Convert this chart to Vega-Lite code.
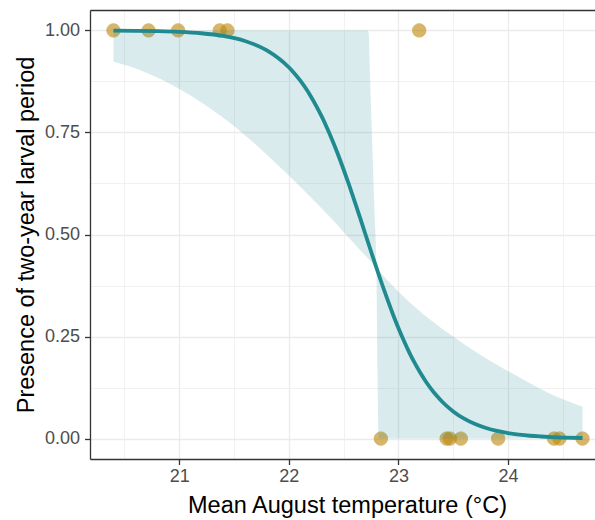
{
  "$schema": "https://vega.github.io/schema/vega-lite/v6.json",
  "width": 505,
  "height": 449,
  "autosize": {"type": "none"},
  "padding": {"left": 90, "top": 10, "right": 0, "bottom": 61},
  "background": "white",
  "config": {
    "view": {"stroke": null},
    "font": "Liberation Sans",
    "axis": {
      "domainColor": "#333333",
      "domainWidth": 1.3,
      "tickColor": "#333333",
      "tickWidth": 1.3,
      "tickSize": 5.5,
      "labelColor": "#4d4d4d",
      "labelFontSize": 18,
      "labelFont": "Liberation Sans",
      "labelFlush": false,
      "labelOverlap": false,
      "titleColor": "#000000",
      "titleFontSize": 23.5,
      "titleFont": "Liberation Sans",
      "titleFontWeight": "normal",
      "gridColor": "#ebebeb"
    }
  },
  "datasets": {
    "obs": [
      {"temp": 20.40, "presence": 1},
      {"temp": 20.72, "presence": 1},
      {"temp": 20.99, "presence": 1},
      {"temp": 21.37, "presence": 1},
      {"temp": 21.44, "presence": 1},
      {"temp": 23.19, "presence": 1},
      {"temp": 22.84, "presence": 0},
      {"temp": 23.44, "presence": 0},
      {"temp": 23.47, "presence": 0},
      {"temp": 23.57, "presence": 0},
      {"temp": 23.91, "presence": 0},
      {"temp": 24.42, "presence": 0},
      {"temp": 24.47, "presence": 0},
      {"temp": 24.68, "presence": 0}
    ],
    "band": [
      {"temp": 20.40, "lo": 0.923, "hi": 1},
      {"temp": 20.64, "lo": 0.903, "hi": 1},
      {"temp": 21.01, "lo": 0.855, "hi": 1},
      {"temp": 21.25, "lo": 0.815, "hi": 1},
      {"temp": 21.50, "lo": 0.766, "hi": 1},
      {"temp": 21.77, "lo": 0.703, "hi": 1},
      {"temp": 22.01, "lo": 0.642, "hi": 1},
      {"temp": 22.24, "lo": 0.580, "hi": 1},
      {"temp": 22.41, "lo": 0.533, "hi": 1},
      {"temp": 22.50, "lo": 0.506, "hi": 1},
      {"temp": 22.60, "lo": 0.477, "hi": 1},
      {"temp": 22.70, "lo": 0.448, "hi": 1},
      {"temp": 22.72, "lo": 0.442, "hi": 1},
      {"temp": 22.73, "lo": 0.439, "hi": 0.99},
      {"temp": 22.74, "lo": 0.436, "hi": 0.90},
      {"temp": 22.76, "lo": 0.430, "hi": 0.73},
      {"temp": 22.78, "lo": 0.424, "hi": 0.57},
      {"temp": 22.80, "lo": 0.418, "hi": 0.40},
      {"temp": 22.81, "lo": 0.415, "hi": 0.15},
      {"temp": 22.82, "lo": 0.412, "hi": 0},
      {"temp": 22.91, "lo": 0.385, "hi": 0},
      {"temp": 23.02, "lo": 0.355, "hi": 0},
      {"temp": 23.14, "lo": 0.325, "hi": 0},
      {"temp": 23.49, "lo": 0.252, "hi": 0},
      {"temp": 23.75, "lo": 0.205, "hi": 0},
      {"temp": 23.93, "lo": 0.176, "hi": 0},
      {"temp": 24.05, "lo": 0.158, "hi": 0},
      {"temp": 24.36, "lo": 0.113, "hi": 0},
      {"temp": 24.68, "lo": 0.078, "hi": 0}
    ],
    "fit": [
      {"temp": 20.40, "p": 0.9995},
      {"temp": 20.60, "p": 0.9990},
      {"temp": 20.80, "p": 0.9981},
      {"temp": 21.00, "p": 0.9964},
      {"temp": 21.20, "p": 0.9930},
      {"temp": 21.40, "p": 0.9865},
      {"temp": 21.60, "p": 0.9742},
      {"temp": 21.80, "p": 0.9512},
      {"temp": 22.00, "p": 0.9097},
      {"temp": 22.05, "p": 0.8952},
      {"temp": 22.10, "p": 0.8787},
      {"temp": 22.15, "p": 0.8600},
      {"temp": 22.20, "p": 0.8389},
      {"temp": 22.25, "p": 0.8153},
      {"temp": 22.30, "p": 0.7892},
      {"temp": 22.35, "p": 0.7604},
      {"temp": 22.40, "p": 0.7291},
      {"temp": 22.45, "p": 0.6953},
      {"temp": 22.50, "p": 0.6592},
      {"temp": 22.55, "p": 0.6213},
      {"temp": 22.60, "p": 0.5818},
      {"temp": 22.65, "p": 0.5412},
      {"temp": 22.70, "p": 0.5000},
      {"temp": 22.75, "p": 0.4589},
      {"temp": 22.80, "p": 0.4182},
      {"temp": 22.85, "p": 0.3787},
      {"temp": 22.90, "p": 0.3408},
      {"temp": 22.95, "p": 0.3047},
      {"temp": 23.00, "p": 0.2709},
      {"temp": 23.05, "p": 0.2396},
      {"temp": 23.10, "p": 0.2108},
      {"temp": 23.15, "p": 0.1847},
      {"temp": 23.20, "p": 0.1611},
      {"temp": 23.25, "p": 0.1400},
      {"temp": 23.30, "p": 0.1213},
      {"temp": 23.35, "p": 0.1048},
      {"temp": 23.40, "p": 0.0903},
      {"temp": 23.45, "p": 0.0776},
      {"temp": 23.50, "p": 0.0666},
      {"temp": 23.60, "p": 0.0488},
      {"temp": 23.70, "p": 0.0356},
      {"temp": 23.80, "p": 0.0258},
      {"temp": 23.90, "p": 0.0187},
      {"temp": 24.00, "p": 0.0135},
      {"temp": 24.10, "p": 0.0098},
      {"temp": 24.20, "p": 0.0070},
      {"temp": 24.30, "p": 0.0051},
      {"temp": 24.40, "p": 0.0036},
      {"temp": 24.50, "p": 0.0026},
      {"temp": 24.68, "p": 0.0015}
    ]
  },
  "layer": [
    {
      "data": {"name": "obs"},
      "mark": {"type": "point", "filled": true, "size": 180, "color": "#bf8a10", "opacity": 0.62, "stroke": "#bf8a10", "strokeWidth": 1},
      "encoding": {
        "x": {
          "field": "temp", "type": "quantitative",
          "scale": {"domain": [20.186, 24.794], "nice": false, "zero": false},
          "axis": {
            "orient": "bottom",
            "title": "Mean August temperature (°C)",
            "values": [20.5, 21, 21.5, 22, 22.5, 23, 23.5, 24, 24.5],
            "labelExpr": "datum.value % 1 === 0 ? format(datum.value, 'd') : ''",
            "grid": true,
            "gridWidth": {"condition": {"test": "datum.value % 1 === 0", "value": 1.3}, "value": 0.65},
            "tickOpacity": {"condition": {"test": "datum.value % 1 === 0", "value": 1}, "value": 0},
            "labelPadding": 3,
            "titlePadding": 8,
            "titleX": 257,
            "titleAlign": "center"
          }
        },
        "y": {
          "field": "presence", "type": "quantitative",
          "scale": {"domain": [-0.05, 1.05], "nice": false, "zero": false},
          "axis": {
            "title": "Presence of two-year larval period",
            "values": [0, 0.125, 0.25, 0.375, 0.5, 0.625, 0.75, 0.875, 1],
            "labelExpr": "(datum.value * 4) % 1 === 0 ? format(datum.value, '.2f') : ''",
            "grid": true,
            "gridWidth": {"condition": {"test": "(datum.value * 4) % 1 === 0", "value": 1.3}, "value": 0.65},
            "tickOpacity": {"condition": {"test": "(datum.value * 4) % 1 === 0", "value": 1}, "value": 0},
            "labelPadding": 5,
            "titlePadding": 6
          }
        }
      }
    },
    {
      "data": {"name": "band"},
      "mark": {"type": "area", "color": "#1f8a8f", "opacity": 0.17, "interpolate": "monotone"},
      "encoding": {
        "x": {"field": "temp", "type": "quantitative", "axis": null},
        "y": {"field": "lo", "type": "quantitative", "title": "Presence of two-year larval period"},
        "y2": {"field": "hi"}
      }
    },
    {
      "data": {"name": "fit"},
      "mark": {"type": "line", "color": "#1f8a8f", "strokeWidth": 3.8, "interpolate": "monotone"},
      "encoding": {
        "x": {
          "field": "temp", "type": "quantitative",
          "axis": {"orient": "top", "title": null, "labels": false, "ticks": false, "grid": false, "domain": true}
        },
        "y": {"field": "p", "type": "quantitative", "title": "Presence of two-year larval period"}
      }
    }
  ],
  "resolve": {"axis": {"x": "independent"}}
}
